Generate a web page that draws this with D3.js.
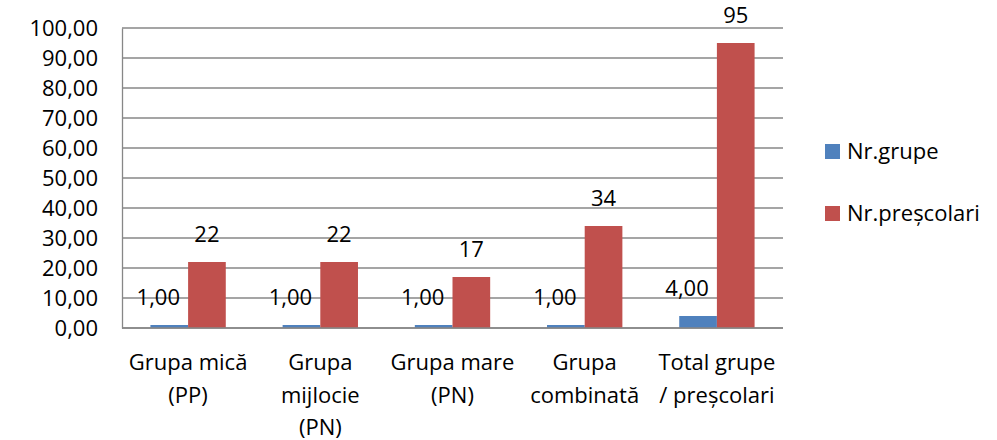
<!DOCTYPE html>
<html>
<head>
<meta charset="utf-8">
<script src="https://cdn.jsdelivr.net/npm/d3@7"></script>
<style>
  body { margin: 0; background: #fff; }
  svg text { font-family: "Open Sans", sans-serif; fill: #000; }
</style>
</head>
<body>
<div id="chart"></div>
<script>
// categories (each one split in lines as shown under the axis)
var categories = ["Grupa mică (PP)", "Grupa mijlocie (PN)", "Grupa mare (PN)", "Grupa combinată", "Total grupe / preșcolari"];
var categoryLines = [
    ["Grupa mică", "(PP)"],
    ["Grupa", "mijlocie", "(PN)"],
    ["Grupa mare", "(PN)"],
    ["Grupa", "combinată"],
    ["Total grupe", "/ preșcolari"]
];
var seriesNames = ["Nr.grupe", "Nr.preșcolari"];
var nrGrupe = [1, 1, 1, 1, 4];
var nrPrescolari = [22, 22, 17, 34, 95];
var yTicks = [0, 10, 20, 30, 40, 50, 60, 70, 80, 90, 100];

var width = 997, height = 440;
var margin = {top: 28, right: 214, bottom: 112, left: 122};
var innerW = width - margin.left - margin.right;
var innerH = height - margin.top - margin.bottom;
var colors = ["#4F81BD", "#C0504D"];

var svg = d3.select("#chart").append("svg")
    .attr("width", width)
    .attr("height", height);

var g = svg.append("g")
    .attr("transform", "translate(" + margin.left + "," + margin.top + ")");

var x0 = d3.scaleBand()
    .domain(categories)
    .range([0, innerW])
    .paddingInner(0.43)
    .paddingOuter(0.215);

var x1 = d3.scaleBand()
    .domain(seriesNames)
    .range([0, x0.bandwidth()]);

var y = d3.scaleLinear()
    .domain([0, 100])
    .range([innerH, 0]);

var fmt = function (v) { return d3.format(".2f")(v).replace(".", ","); };

// gridlines
g.append("g")
    .classed("grid", true)
    .selectAll("line")
    .data(yTicks)
    .enter().append("line")
    .attr("x1", 0)
    .attr("x2", innerW)
    .attr("y1", function (d) { return y(d); })
    .attr("y2", function (d) { return y(d); })
    .attr("stroke", "#878787")
    .attr("stroke-width", 1.3);

// y axis
var yAxis = g.append("g")
    .call(d3.axisLeft(y).tickValues(yTicks).tickFormat(fmt).tickSize(0).tickPadding(24));
yAxis.select(".domain").attr("stroke", "#878787").attr("stroke-width", 1.3);
yAxis.selectAll("text")
    .style("font-size", "22px")
    .style("font-family", "'Open Sans', sans-serif")
    .attr("dy", "0.36em")
    .attr("fill", "#000");

// bars
var series = [nrGrupe, nrPrescolari];
var groups = g.selectAll(".cat")
    .data(categories)
    .enter().append("g")
    .classed("cat", true)
    .attr("transform", function (d) { return "translate(" + x0(d) + ",0)"; });

groups.each(function (cat, i) {
    var grp = d3.select(this);
    seriesNames.forEach(function (s, j) {
        var v = series[j][i];
        grp.append("rect")
            .attr("x", x1(s))
            .attr("y", y(v))
            .attr("width", x1.bandwidth())
            .attr("height", y(0) - y(v))
            .attr("fill", colors[j]);
        // data labels: Nr.grupe shown with two decimals, shifted left a bit
        grp.append("text")
            .attr("x", x1(s) + x1.bandwidth() / 2)
            .attr("dx", j === 0 ? -11 : 0)
            .attr("y", y(v) - 20)
            .attr("text-anchor", "middle")
            .style("font-size", "22px")
            .text(j === 0 ? fmt(v) : v);
    });
});

// x axis baseline
g.append("line")
    .attr("x1", 0)
    .attr("x2", innerW)
    .attr("y1", y(0))
    .attr("y2", y(0))
    .attr("stroke", "#878787")
    .attr("stroke-width", 1.3);

// category labels
g.selectAll(".cat-label")
    .data(categories)
    .enter().append("text")
    .classed("cat-label", true)
    .attr("text-anchor", "middle")
    .attr("x", function (d) { return x0(d) + x0.bandwidth() / 2; })
    .attr("y", innerH + 42)
    .style("font-size", "22px")
    .each(function (d, i) {
        var t = d3.select(this);
        categoryLines[i].forEach(function (line, k) {
            t.append("tspan")
                .attr("x", x0(d) + x0.bandwidth() / 2)
                .attr("dy", k === 0 ? 0 : 32.5)
                .text(line);
        });
    });

// legend
var legend = svg.append("g")
    .attr("transform", "translate(825,144)");
seriesNames.forEach(function (s, j) {
    var item = legend.append("g").attr("transform", "translate(0," + j * 62 + ")");
    item.append("rect")
        .attr("width", 15)
        .attr("height", 15)
        .attr("fill", colors[j]);
    item.append("text")
        .attr("x", 22)
        .attr("y", 15)
        .style("font-size", "22px")
        .text(s);
});
</script>
</body>
</html>
